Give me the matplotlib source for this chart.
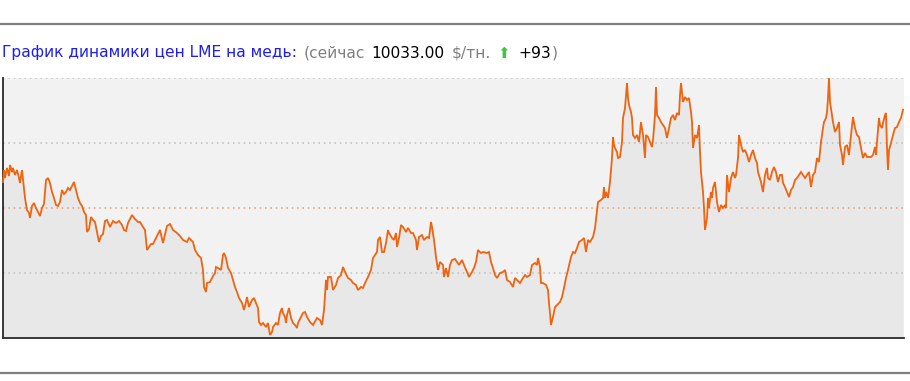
import matplotlib
matplotlib.use("Agg")
import matplotlib.pyplot as plt
from matplotlib.lines import Line2D

# ---------------- data (LME copper, $/t) ----------------
days_1 = [3, 4, 5, 7, 9, 10, 12, 13, 15, 17, 19, 20, 22, 24, 25, 27, 29, 30, 32, 34,
          36, 38, 40, 42, 44, 46, 48, 50, 52, 54, 56, 58, 60, 62, 64, 66, 68, 70, 72, 74,
          76, 78, 80, 82, 84, 86, 87, 89, 91, 93, 95, 97, 99, 101, 103, 105, 107, 110, 113, 116,
          119, 122, 124, 126, 128, 130, 132, 135, 138, 140, 143, 145, 147, 149, 151, 153]
price_1 = [9310, 9430, 9350, 9450, 9370, 9480, 9410, 9450, 9380, 9430, 9350, 9300, 9430, 9250, 9150, 9030, 9000, 8950, 9070, 9100,
           9050, 9010, 8970, 9050, 9090, 9330, 9350, 9300, 9210, 9150, 9080, 9070, 9110, 9230, 9190, 9210, 9250, 9230, 9270, 9310,
           9230, 9150, 9100, 9070, 9010, 8980, 8810, 8840, 8960, 8930, 8910, 8810, 8710, 8770, 8790, 8920, 8930, 8860, 8920, 8900,
           8920, 8880, 8830, 8820, 8900, 8940, 8980, 8940, 8910, 8910, 8860, 8830, 8630, 8660, 8690, 8690]

days_2 = [157, 160, 163, 167, 170, 173, 177, 180, 183, 187, 189, 193, 195, 198, 201, 203, 204, 206, 207, 210,
          213, 215, 216, 218, 221, 223, 224, 226, 228, 231, 233, 235, 237, 239, 242, 244, 246, 247, 249, 252,
          254, 256, 258, 259, 261, 263, 266, 268, 270, 272, 273, 276, 278, 280, 282, 283, 285, 286, 287, 289,
          291, 293, 295, 297, 298, 301, 303, 305]
price_2 = [8770, 8830, 8700, 8870, 8890, 8830, 8800, 8770, 8730, 8710, 8750, 8710, 8630, 8580, 8550, 8430, 8260, 8210, 8300, 8310,
           8370, 8400, 8460, 8450, 8430, 8580, 8600, 8550, 8450, 8400, 8330, 8260, 8210, 8150, 8100, 8030, 8110, 8160, 8060, 8130,
           8150, 8100, 8050, 7910, 7880, 7900, 7860, 7900, 7780, 7810, 7860, 7900, 7880, 8000, 8050, 8000, 7960, 7900, 7980, 8050,
           7950, 7900, 7880, 7850, 7900, 7960, 8000, 8010]

days_3 = [307, 310, 313, 317, 320, 322, 324, 326, 327, 328, 331, 333, 336, 338, 341, 343, 345, 348, 351, 353,
          356, 358, 361, 363, 365, 368, 371, 373, 375, 377, 378, 380, 382, 384, 386, 388, 389, 392, 394, 396,
          397, 399, 401, 403, 406, 408, 411, 413, 416, 417, 419, 422, 424, 427, 429, 431, 432, 434, 436, 438,
          440, 443, 444, 446, 448, 450, 452, 455]
price_3 = [7960, 7910, 7880, 7950, 7930, 7880, 8030, 8330, 8230, 8360, 8360, 8230, 8280, 8350, 8380, 8460, 8410, 8350, 8330, 8300,
           8280, 8230, 8260, 8250, 8300, 8360, 8430, 8550, 8580, 8610, 8730, 8760, 8610, 8610, 8700, 8830, 8800, 8750, 8730, 8800,
           8660, 8750, 8880, 8860, 8810, 8850, 8800, 8800, 8730, 8630, 8760, 8780, 8730, 8760, 8750, 8910, 8860, 8730, 8560, 8430,
           8510, 8480, 8360, 8450, 8360, 8480, 8530, 8540]

days_4 = [457, 459, 462, 464, 467, 469, 472, 474, 476, 478, 481, 483, 487, 489, 491, 493, 495, 497, 500, 503,
          505, 507, 510, 513, 515, 517, 520, 523, 525, 527, 530, 532, 535, 537, 538, 540, 541, 543, 546, 548,
          549, 550, 551, 553, 555, 557, 560, 562, 564, 566, 568, 571, 573, 575, 577, 579, 582, 584, 586, 588,
          590, 593, 595, 597, 598, 601, 603]
price_4 = [8510, 8480, 8530, 8480, 8410, 8360, 8410, 8450, 8510, 8630, 8600, 8610, 8600, 8610, 8510, 8450, 8380, 8350, 8400, 8410,
           8430, 8330, 8310, 8260, 8350, 8330, 8300, 8350, 8380, 8360, 8380, 8480, 8500, 8480, 8550, 8460, 8300, 8300, 8280, 8230,
           8100, 8000, 7880, 7960, 8060, 8080, 8110, 8160, 8250, 8350, 8430, 8560, 8610, 8600, 8650, 8710, 8730, 8750, 8610, 8730,
           8710, 8760, 8850, 9030, 9110, 9130, 9150]

days_5 = [604, 605, 606, 608, 610, 612, 613, 614, 615, 617, 618, 620, 622, 623, 625, 626, 627, 628, 629, 631,
          632, 633, 635, 637, 639, 641, 643, 645, 646, 648, 650, 652, 653, 655, 656, 657, 659, 661, 663, 665,
          667, 669, 671, 673, 675, 677, 679, 680, 681, 683, 685, 687, 689, 691, 692, 693, 695, 697, 699, 700,
          701, 703, 704, 705, 707, 708, 709, 711, 712, 713, 715, 717, 719, 721, 723, 725, 726, 727, 729, 731,
          733, 735, 736, 738, 739, 741, 743, 745, 747, 749, 751, 753, 755]
price_5 = [9260, 9150, 9210, 9150, 9310, 9550, 9760, 9680, 9650, 9610, 9550, 9560, 9710, 9950, 10050, 10180, 10300, 10150, 10080, 10010,
           9950, 9780, 9750, 9780, 9710, 9910, 9780, 9550, 9780, 9760, 9710, 9660, 9730, 9980, 10260, 9980, 9950, 9910, 9880, 9850,
           9750, 9850, 9950, 9980, 9930, 10000, 9980, 10180, 10300, 10110, 10160, 10130, 10150, 10010, 9910, 9650, 9780, 9750, 9880, 9610,
           9410, 9210, 9050, 8830, 8950, 9150, 9050, 9210, 9150, 9250, 9310, 9110, 9010, 9080, 9050, 9080, 9050, 9380, 9210, 9350,
           9410, 9350, 9380, 9550, 9780, 9680, 9610, 9630, 9580, 9510, 9580, 9630, 9550]

days_6 = [757, 758, 761, 763, 765, 767, 768, 770, 772, 774, 776, 778, 780, 782, 783, 785, 787, 789, 791, 793,
          795, 797, 799, 801, 803, 805, 807, 809, 811, 813, 815, 817, 819, 821, 823, 824, 826, 827, 828, 829,
          830, 832, 833, 835, 837, 839, 840, 842, 843, 845, 847, 849, 851, 853, 855, 857, 859, 861, 863, 865,
          867, 869, 871, 873, 875, 876, 877, 879, 880, 882, 883, 885, 886, 887, 888, 889, 891, 893, 895, 897,
          899, 901, 903]
price_6 = [9500, 9410, 9310, 9210, 9380, 9450, 9350, 9330, 9410, 9460, 9410, 9310, 9380, 9380, 9300, 9260, 9210, 9160, 9230, 9260,
           9330, 9350, 9380, 9410, 9380, 9350, 9380, 9410, 9260, 9380, 9410, 9550, 9510, 9710, 9850, 9910, 9950, 10010, 10150, 10350,
           10110, 9980, 9910, 9810, 9850, 9910, 9680, 9580, 9480, 9660, 9680, 9580, 9780, 9960, 9850, 9780, 9760, 9650, 9550, 9600,
           9560, 9560, 9560, 9580, 9660, 9580, 9710, 9950, 9880, 9850, 9900, 9980, 10000, 9650, 9430, 9630, 9700, 9780, 9850, 9860,
           9910, 9950, 10033]

days = days_1 + days_2 + days_3 + days_4 + days_5 + days_6
prices = price_1 + price_2 + price_3 + price_4 + price_5 + price_6

y_min, y_max = 7750, 10350
grid_levels = [8400, 9050, 9700, 10350]
grid_colors = ["#BDBDBD", "#F29A66", "#BDBDBD", "#BDBDBD"]

title_main = "График динамики цен LME на медь:"
now_label = "(сейчас"
now_price = "10033.00"
unit_label = "$/тн."
change_label = "+93"

# ---------------- figure ----------------
W, H = 910, 381
fig = plt.figure(figsize=(W / 100, H / 100), dpi=100)
fig.patch.set_facecolor("white")

ax = fig.add_axes([3 / W, (H - 338) / H, (904 - 3) / W, (338 - 78) / H])
ax.set_facecolor("#F2F2F2")
ax.fill_between(days, prices, y_min, color="#E8E8E8", linewidth=0, zorder=1)
for lvl, col in zip(grid_levels, grid_colors):
    ax.axhline(lvl, color=col, linewidth=1.1, linestyle=(0, (1, 2.5)), zorder=2)
ax.plot(days, prices, color="#EE6410", linewidth=1.3, zorder=3, clip_on=False,
        solid_joinstyle="miter")
ax.set_xlim(3, 904)
ax.set_ylim(y_min, y_max)
ax.set_xticks([])
ax.set_yticks([])
for s in ("top", "right"):
    ax.spines[s].set_visible(False)
for s in ("left", "bottom"):
    ax.spines[s].set_color("#2A2A2A")
    ax.spines[s].set_linewidth(1.3)

# separators
fig.add_artist(Line2D([0, 1], [1 - 23.5 / H, 1 - 23.5 / H], color="#7F7F7F", linewidth=1.6))
fig.add_artist(Line2D([0, 1], [1 - 372.5 / H, 1 - 372.5 / H], color="#7F7F7F", linewidth=1.6))

# title line built piece by piece
renderer = fig.canvas.get_renderer()
ty = 1 - 53 / H
fs = 11.2
pieces = [
    (title_main, "#1E1EF0", fs, 7),
    (now_label, "#808080", fs, 6),
    (now_price, "#000000", fs, 7),
    (unit_label, "#808080", fs, 7),
    ("⬆", "#3CC83C", 11, 8),
    (change_label, "#000000", fs, 0.5),
    (")", "#808080", fs, 0),
]
x = 2
for txt, col, size, gap in pieces:
    t = fig.text(x / W, ty, txt, color=col, fontsize=size, va="center", ha="left",
                 family=["DejaVu Sans"])
    bb = t.get_window_extent(renderer)
    x = bb.x1 + gap

fig.savefig("out.png", dpi=100, facecolor="white")
